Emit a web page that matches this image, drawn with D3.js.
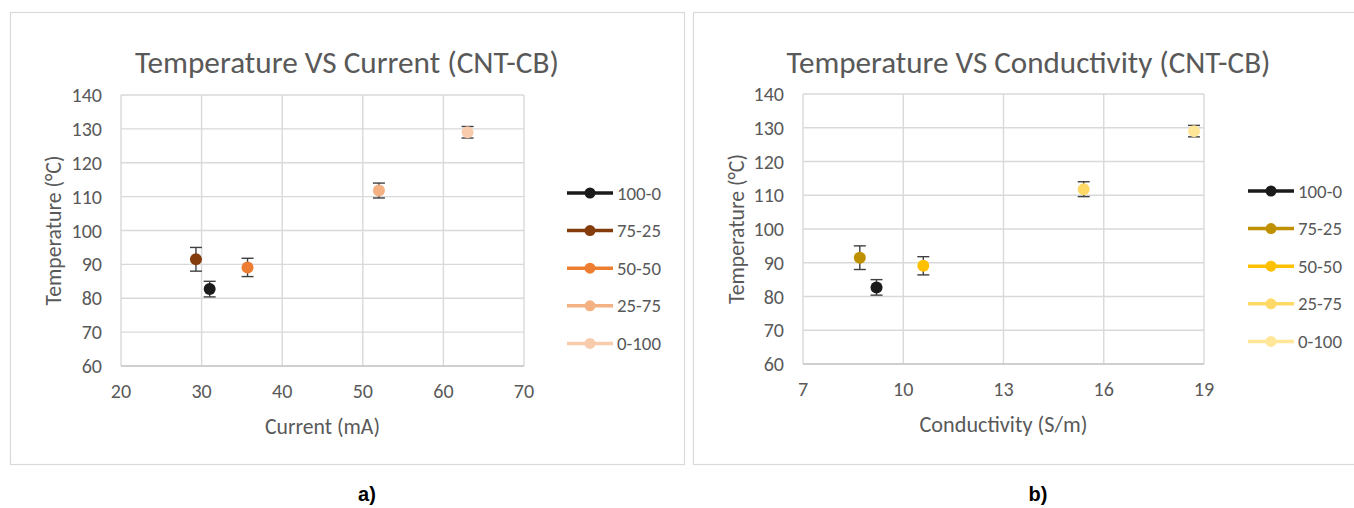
<!DOCTYPE html>
<html>
<head>
<meta charset="utf-8">
<script src="https://cdn.jsdelivr.net/npm/d3@7/dist/d3.min.js"></script>
<style>
  html, body { margin: 0; padding: 0; background: #fff; }
  svg { display: block; }
  text { font-family: "Carlito", "Lato", "Open Sans", sans-serif; }
</style>
</head>
<body>
<svg id="chart" width="1354" height="508"></svg>
<script>
// ---------- data ----------
const seriesNames = ["100-0", "75-25", "50-50", "25-75", "0-100"];
const currentMA = [31.0, 29.3, 35.7, 52.0, 63.0];
const conductivity = [9.2, 8.7, 10.6, 15.4, 18.7];
const temperature = [82.7, 91.5, 89.1, 111.8, 129.0];
const tempError = [2.3, 3.5, 2.7, 2.2, 1.7];
const colorsA = ["#1a1a1a", "#843c0c", "#ed7d31", "#f4b183", "#f8cbad"];
const colorsB = ["#1a1a1a", "#bf9000", "#ffc000", "#ffd966", "#ffe699"];
const yTicks = [60, 70, 80, 90, 100, 110, 120, 130, 140];
const xTicksA = [20, 30, 40, 50, 60, 70];
const xTicksB = [7, 10, 13, 16, 19];
const titleA = "Temperature VS Current (CNT-CB)";
const titleB = "Temperature VS Conductivity (CNT-CB)";
const xTitleA = "Current (mA)";
const xTitleB = "Conductivity (S/m)";
const yTitle = "Temperature  (°C)";

const svg = d3.select("#chart");
const textColor = "#595959";
const gridColor = "#d9d9d9";

function sizeFor(str, target, base) {
  const t = svg.append("text").attr("font-size", base).text(str);
  const w = t.node().getComputedTextLength();
  t.remove();
  return +(base * target / w).toFixed(2);
}
const tickFS = sizeFor("140", 30.5, 17);
const legendFS = sizeFor("100-0", 44, 17);
const yTitleFS = sizeFor(yTitle, 150, 17);

function drawPanel(cfg) {
  const g = svg.append("g");
  g.append("rect")
    .attr("x", cfg.frame[0] + 0.5).attr("y", cfg.frame[1] + 0.5)
    .attr("width", cfg.frame[2] - cfg.frame[0]).attr("height", cfg.frame[3] - cfg.frame[1])
    .attr("fill", "#fff").attr("stroke", gridColor).attr("stroke-width", 1.2);

  const x = d3.scaleLinear().domain(d3.extent(cfg.xTicks)).range([cfg.plot.left, cfg.plot.right]);
  const y = d3.scaleLinear().domain(d3.extent(yTicks)).range([cfg.plot.bottom, cfg.plot.top]);

  g.append("g").selectAll("line").data(cfg.xTicks).join("line")
    .attr("x1", d => x(d)).attr("x2", d => x(d))
    .attr("y1", cfg.plot.top).attr("y2", cfg.plot.bottom)
    .attr("stroke", gridColor).attr("stroke-width", 1.4);
  g.append("g").selectAll("line").data(yTicks).join("line")
    .attr("x1", cfg.plot.left).attr("x2", cfg.plot.right)
    .attr("y1", d => y(d)).attr("y2", d => y(d))
    .attr("stroke", gridColor).attr("stroke-width", 1.4);
  g.append("line")
    .attr("x1", cfg.plot.left).attr("x2", cfg.plot.right)
    .attr("y1", y(yTicks[0])).attr("y2", y(yTicks[0]))
    .attr("stroke", "#c8c8c8").attr("stroke-width", 1.6);

  g.append("g").selectAll("text").data(yTicks).join("text")
    .attr("x", cfg.plot.left - 19).attr("y", d => y(d))
    .attr("dy", "0.35em").attr("text-anchor", "end")
    .attr("font-size", tickFS).attr("fill", textColor).text(d => d);
  g.append("g").selectAll("text").data(cfg.xTicks).join("text")
    .attr("x", d => x(d)).attr("y", cfg.plot.bottom + 25)
    .attr("dy", "0.35em").attr("text-anchor", "middle")
    .attr("font-size", tickFS).attr("fill", textColor).text(d => d);

  g.append("text")
    .attr("x", (cfg.plot.left + cfg.plot.right) / 2).attr("y", cfg.plot.bottom + 60)
    .attr("dy", "0.35em").attr("text-anchor", "middle")
    .attr("font-size", sizeFor(cfg.xTitle, cfg.xTitleW, 17)).attr("fill", textColor).text(cfg.xTitle);
  g.append("text")
    .attr("transform", `translate(${cfg.yTitleX},${(cfg.plot.top + cfg.plot.bottom) / 2}) rotate(-90)`)
    .attr("dy", "0.35em").attr("text-anchor", "middle")
    .attr("font-size", yTitleFS).attr("fill", textColor).text(yTitle);

  g.append("text")
    .attr("x", cfg.titleX).attr("y", 62)
    .attr("dy", "0.35em").attr("text-anchor", "middle")
    .attr("font-size", sizeFor(cfg.title, cfg.titleW, 26)).attr("fill", textColor).text(cfg.title);

  const pts = seriesNames.map((n, i) => ({
    name: n, xv: cfg.xVals[i], t: temperature[i], e: tempError[i], c: cfg.colors[i]
  }));
  const pg = g.append("g").selectAll("g").data(pts).join("g");
  pg.append("line")
    .attr("x1", d => x(d.xv)).attr("x2", d => x(d.xv))
    .attr("y1", d => y(d.t - d.e)).attr("y2", d => y(d.t + d.e))
    .attr("stroke", "#404040").attr("stroke-width", 1.4);
  pg.selectAll("line.cap").data(d => [d.t - d.e, d.t + d.e].map(v => ({ v, xv: d.xv })))
    .join("line").attr("class", "cap")
    .attr("x1", d => x(d.xv) - 6).attr("x2", d => x(d.xv) + 6)
    .attr("y1", d => y(d.v)).attr("y2", d => y(d.v))
    .attr("stroke", "#404040").attr("stroke-width", 1.4);
  pg.append("circle")
    .attr("cx", d => x(d.xv)).attr("cy", d => y(d.t)).attr("r", 6)
    .attr("fill", d => d.c);

  const lg = g.append("g").selectAll("g").data(pts).join("g")
    .attr("transform", (d, i) => `translate(${cfg.legendX},${cfg.legendY + i * 37.6})`);
  lg.append("line").attr("x1", 0).attr("x2", 46).attr("y1", 0).attr("y2", 0)
    .attr("stroke", d => d.c).attr("stroke-width", 3.5);
  lg.append("circle").attr("cx", 23).attr("cy", 0).attr("r", 5.5).attr("fill", d => d.c);
  lg.append("text").attr("x", 50).attr("y", 0).attr("dy", "0.35em")
    .attr("font-size", legendFS).attr("fill", textColor).text(d => d.name);
}

drawPanel({
  frame: [10, 12, 684, 464],
  plot: { left: 121, right: 524, top: 95, bottom: 366 },
  xTicks: xTicksA, xVals: currentMA, colors: colorsA,
  title: titleA, titleX: 347, titleW: 424, xTitle: xTitleA, xTitleW: 115, yTitleX: 53,
  legendX: 567, legendY: 193
});
drawPanel({
  frame: [693, 12, 1362, 464],
  plot: { left: 803, right: 1204, top: 94, bottom: 364 },
  xTicks: xTicksB, xVals: conductivity, colors: colorsB,
  title: titleB, titleX: 1028.5, titleW: 484, xTitle: xTitleB, xTitleW: 168, yTitleX: 736,
  legendX: 1248, legendY: 191
});

svg.selectAll("text.sub").data(["a)", "b)"]).join("text")
  .attr("class", "sub")
  .attr("x", (d, i) => [367, 1038][i]).attr("y", 494)
  .attr("dy", "0.35em").attr("text-anchor", "middle")
  .style("font-family", "'Liberation Sans', Arial, sans-serif")
  .attr("font-weight", "bold").attr("font-size", 20).attr("fill", "#000")
  .text(d => d);
</script>
</body>
</html>
